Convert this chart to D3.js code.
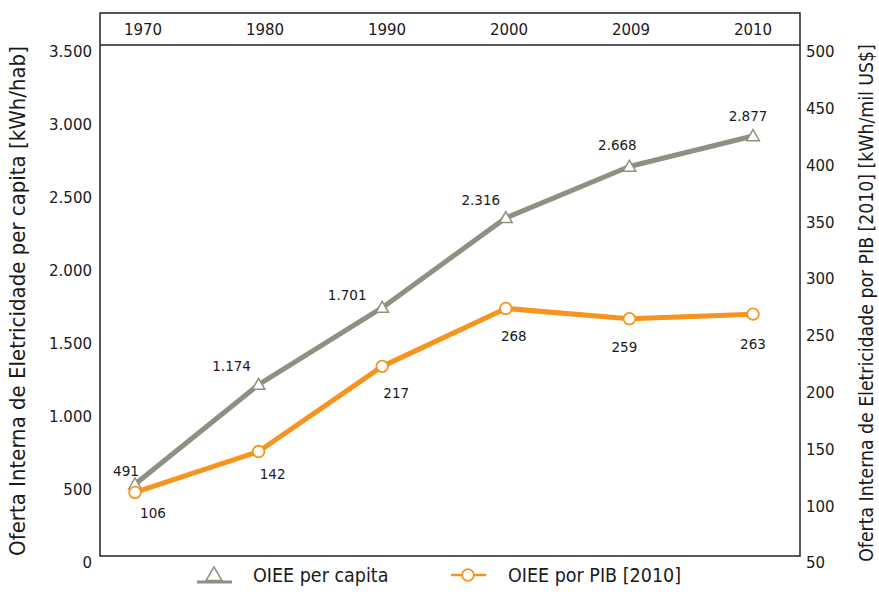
<!DOCTYPE html>
<html>
<head>
<meta charset="utf-8">
<script src="https://cdn.jsdelivr.net/npm/d3@7/dist/d3.min.js"></script>
<style>
  html, body { margin: 0; padding: 0; background: #fff; }
  svg { display: block; }
  text { fill: #1a1a1a; }
</style>
</head>
<body>
<svg id="chart" width="879" height="596"></svg>
<script>
// ---------- Data ----------
const years = ["1970", "1980", "1990", "2000", "2009", "2010"];
const perCapita = [491, 1174, 1701, 2316, 2668, 2877];      // kWh/hab (left axis)
const porPIB = [106, 142, 217, 268, 259, 263];              // kWh/mil US$ (right axis)
const leftTicks = [0, 500, 1000, 1500, 2000, 2500, 3000, 3500];
const rightTicks = [50, 100, 150, 200, 250, 300, 350, 400, 450, 500];
const seriesNames = ["OIEE per capita", "OIEE por PIB [2010]"];
const leftTitle = "Oferta Interna de Eletricidade per capita [kWh/hab]";
const rightTitle = "Oferta Interna de Eletricidade por PIB [2010] [kWh/mil US$]";

// ---------- Layout / style ----------
const frame = { left: 100, right: 800, top: 13, header: 45, bottom: 556 };
const grayC = "#8e9181";
const orangeC = "#f7941d";
const tickFont = "'DejaVu Sans', Verdana, sans-serif";
const titleFont = "'DejaVu Sans Condensed', 'DejaVu Sans', sans-serif";

const locale = d3.formatLocale({ decimal: ",", thousands: ".", grouping: [3], currency: ["", ""] });
const fmt = locale.format(",");

const svg = d3.select("#chart");

const x = d3.scalePoint().domain(years).range([135, 753]);
const xTop = d3.scalePoint().domain(years).range([143, 753]);
const yL = d3.scaleLinear().domain([0, 3500]).range([frame.bottom, frame.header]);
const yR = d3.scaleLinear().domain([50, 500]).range([frame.bottom, frame.header]);

// Frame
svg.append("rect")
  .attr("x", frame.left).attr("y", frame.top)
  .attr("width", frame.right - frame.left).attr("height", frame.bottom - frame.top)
  .attr("fill", "none").attr("stroke", "#222").attr("stroke-width", 1.5);
svg.append("line")
  .attr("x1", frame.left).attr("x2", frame.right)
  .attr("y1", frame.header).attr("y2", frame.header)
  .attr("stroke", "#222").attr("stroke-width", 1.5);

// Top category labels
svg.append("g").selectAll("text").data(years).join("text")
  .attr("x", d => xTop(d)).attr("y", 30)
  .attr("text-anchor", "middle").attr("dominant-baseline", "central")
  .style("font-family", tickFont).style("font-size", "15px")
  .text(d => d);

// Left axis (labels only)
const axL = d3.axisLeft(yL).tickValues(leftTicks).tickFormat(fmt).tickSize(0).tickPadding(8);
const gL = svg.append("g").attr("transform", `translate(${frame.left},0)`).call(axL);
gL.select(".domain").remove();
gL.selectAll("text").attr("dy", "0.32em").attr("y", 7)
  .style("font-family", tickFont).style("font-size", "15px").style("fill", "#1a1a1a");

// Right axis (labels only)
const axR = d3.axisRight(yR).tickValues(rightTicks).tickFormat(d => d).tickSize(0).tickPadding(6);
const gR = svg.append("g").attr("transform", `translate(${frame.right},0)`).call(axR);
gR.select(".domain").remove();
gR.selectAll("text").attr("dy", "0.32em").attr("y", 7)
  .style("font-family", tickFont).style("font-size", "15px").style("fill", "#1a1a1a");

// Axis titles fitted to their length
function fitText(sel, target) {
  let fs = 19;
  sel.style("font-size", fs + "px");
  const len = sel.node().getComputedTextLength();
  if (len > 0) {
    fs = fs * target / len;
    sel.style("font-size", fs + "px");
  }
}
const tL = svg.append("text")
  .attr("transform", "translate(17,301) rotate(-90)")
  .attr("text-anchor", "middle").attr("dominant-baseline", "central")
  .style("font-family", titleFont).text(leftTitle);
fitText(tL, 510);
const tR = svg.append("text")
  .attr("transform", "translate(866,303) rotate(-90)")
  .attr("text-anchor", "middle").attr("dominant-baseline", "central")
  .style("font-family", titleFont).text(rightTitle);
fitText(tR, 518);

// Series 1: per capita (gray, triangles)
const lineL = d3.line().x((d, i) => x(years[i])).y(d => yL(d));
svg.append("path").datum(perCapita).attr("d", lineL)
  .attr("fill", "none").attr("stroke", grayC).attr("stroke-width", 5).attr("stroke-linejoin", "round");
const tri = d3.symbol().type(d3.symbolTriangle).size(70);
svg.append("g").selectAll("path").data(perCapita).join("path")
  .attr("d", tri)
  .attr("transform", (d, i) => `translate(${x(years[i])},${yL(d) + 1})`)
  .attr("fill", "#fff").attr("stroke", grayC).attr("stroke-width", 1.5);

// Series 2: por PIB (orange, circles)
const lineR = d3.line().x((d, i) => x(years[i])).y(d => yR(d));
svg.append("path").datum(porPIB).attr("d", lineR)
  .attr("fill", "none").attr("stroke", orangeC).attr("stroke-width", 5).attr("stroke-linejoin", "round");
svg.append("g").selectAll("circle").data(porPIB).join("circle")
  .attr("cx", (d, i) => x(years[i])).attr("cy", d => yR(d)).attr("r", 5.8)
  .attr("fill", "#fff").attr("stroke", orangeC).attr("stroke-width", 1.8);

// Data labels (label placement offsets, style only)
const grayOff = [[-9, -13], [-27, -19], [-35, -13], [-25, -18], [-12, -21], [-5, -20]];
const orangeOff = [[18, 21], [14, 22], [14, 27], [8, 28], [-5, 28], [0, 30]];
svg.append("g").selectAll("text").data(perCapita).join("text")
  .attr("x", (d, i) => x(years[i]) + grayOff[i][0])
  .attr("y", (d, i) => yL(d) + grayOff[i][1])
  .attr("text-anchor", "middle").attr("dominant-baseline", "central")
  .style("font-family", tickFont).style("font-size", "13.5px")
  .text(d => fmt(d));
svg.append("g").selectAll("text").data(porPIB).join("text")
  .attr("x", (d, i) => x(years[i]) + orangeOff[i][0])
  .attr("y", (d, i) => yR(d) + orangeOff[i][1])
  .attr("text-anchor", "middle").attr("dominant-baseline", "central")
  .style("font-family", tickFont).style("font-size", "13.5px")
  .text(d => fmt(d));

// Legend
const lg = svg.append("g");
lg.append("line").attr("x1", 197).attr("x2", 232).attr("y1", 582).attr("y2", 582)
  .attr("stroke", grayC).attr("stroke-width", 3);
lg.append("path").attr("d", d3.symbol().type(d3.symbolTriangle).size(110)())
  .attr("transform", "translate(214,576)")
  .attr("fill", "#fff").attr("stroke", grayC).attr("stroke-width", 1.5);
lg.append("text").attr("x", 253).attr("y", 582)
  .style("font-family", titleFont).style("font-size", "19.5px").text(seriesNames[0]);

lg.append("line").attr("x1", 451).attr("x2", 486).attr("y1", 575).attr("y2", 575)
  .attr("stroke", orangeC).attr("stroke-width", 2.5);
lg.append("circle").attr("cx", 468).attr("cy", 575).attr("r", 5.8)
  .attr("fill", "#fff").attr("stroke", orangeC).attr("stroke-width", 1.8);
lg.append("text").attr("x", 508).attr("y", 582)
  .style("font-family", titleFont).style("font-size", "19.5px").text(seriesNames[1]);
</script>
</body>
</html>
